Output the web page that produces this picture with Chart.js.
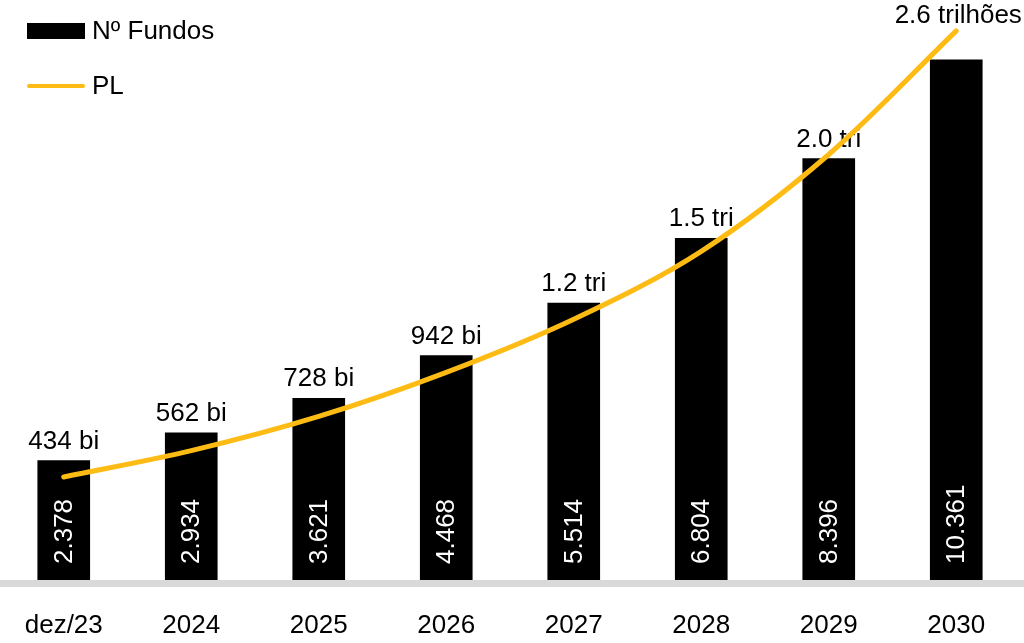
<!DOCTYPE html>
<html>
<head>
<meta charset="utf-8">
<script src="https://cdn.jsdelivr.net/npm/chart.js@4/dist/chart.umd.min.js"></script>
<style>
  html, body { margin: 0; padding: 0; background: #fff; }
  #wrap { position: relative; width: 1024px; height: 643px; }
  .legend { position: absolute; left: 27px; font: 26px 'Liberation Sans', Arial, sans-serif; color: #000; display: flex; align-items: center; }
  .legend .sw { display: inline-block; width: 58px; margin-right: 7px; }
</style>
</head>
<body>
<div id="wrap">
  <canvas id="myChart" width="1024" height="643"></canvas>
  <div class="legend" style="top:15px"><span class="sw" style="height:16px;background:#000"></span>Nº Fundos</div>
  <div class="legend" style="top:70px"><span class="sw" style="height:4px;background:#FDBB13;border-radius:2px"></span>PL</div>
</div>
<script>
const categories = ['dez/23', '2024', '2025', '2026', '2027', '2028', '2029', '2030'];
const numFundos = [2378, 2934, 3621, 4468, 5514, 6804, 8396, 10361]; // nº de fundos
const plBilhoes = [434, 562, 728, 942, 1200, 1530, 2000, 2600]; // PL em R$ bi
const plLabels = ['434 bi', '562 bi', '728 bi', '942 bi', '1.2 tri', '1.5 tri', '2.0 tri', '2.6 trilhões'];

const FONT = "'Liberation Sans', Arial, sans-serif";

// number with dot as thousands separator (pt-BR style)
const fmt = (n) => String(n).replace(/\B(?=(\d{3})+(?!\d))/g, '.');

const labelsPlugin = {
  id: 'barLabels',
  afterDatasetDraw(chart, args) {
    if (args.index !== 0) return;
    const ctx = chart.ctx;
    const meta = chart.getDatasetMeta(0);
    ctx.save();
    ctx.font = '26px ' + FONT;
    meta.data.forEach((bar, i) => {
      // PL label above the bar
      ctx.fillStyle = '#000';
      ctx.textAlign = 'center';
      ctx.textBaseline = 'alphabetic';
      const last = i === meta.data.length - 1;
      ctx.fillText(plLabels[i], bar.x + (last ? 2 : 0), last ? 23 : bar.y - 12);
      // nº fundos inside the bar, rotated
      ctx.save();
      ctx.translate(bar.x, bar.base - 16);
      ctx.rotate(-Math.PI / 2);
      ctx.fillStyle = '#fff';
      ctx.textAlign = 'left';
      ctx.textBaseline = 'middle';
      ctx.fillText(fmt(numFundos[i]), 0, 1);
      ctx.restore();
    });
    ctx.restore();
  },
  afterDraw(chart) {
    // gray baseline across the full width
    const ctx = chart.ctx;
    ctx.save();
    ctx.fillStyle = '#d9d9d9';
    ctx.fillRect(0, chart.chartArea.bottom, chart.width, 7);
    ctx.restore();
  }
};

const ctx = document.getElementById('myChart').getContext('2d');
new Chart(ctx, {
  data: {
    labels: categories,
    datasets: [
      {
        type: 'bar',
        label: 'Nº Fundos',
        data: numFundos,
        backgroundColor: '#000',
        barThickness: 52,
        yAxisID: 'y',
        order: 2
      },
      {
        type: 'line',
        label: 'PL',
        data: plBilhoes,
        borderColor: '#FDBB13',
        borderWidth: 5,
        pointRadius: 0,
        cubicInterpolationMode: 'monotone',
        borderCapStyle: 'round',
        yAxisID: 'y2',
        order: 1
      }
    ]
  },
  options: {
    responsive: false,
    animation: false,
    layout: { padding: { top: 20, left: 0, right: 4, bottom: 0 } },
    plugins: { legend: { display: false }, tooltip: { enabled: false } },
    scales: {
      x: {
        grid: { display: false, drawTicks: false },
        border: { display: false },
        ticks: { color: '#000', font: { family: FONT, size: 26 }, padding: 30 },
        afterFit(scale) {
          scale.height = 63;
          scale.paddingLeft = 0;
          scale.paddingRight = 0;
        }
      },
      y: { display: false, min: 0, max: 11155 },
      y2: { display: false, min: -66, max: 2653 }
    }
  },
  plugins: [labelsPlugin]
});
</script>
</body>
</html>
